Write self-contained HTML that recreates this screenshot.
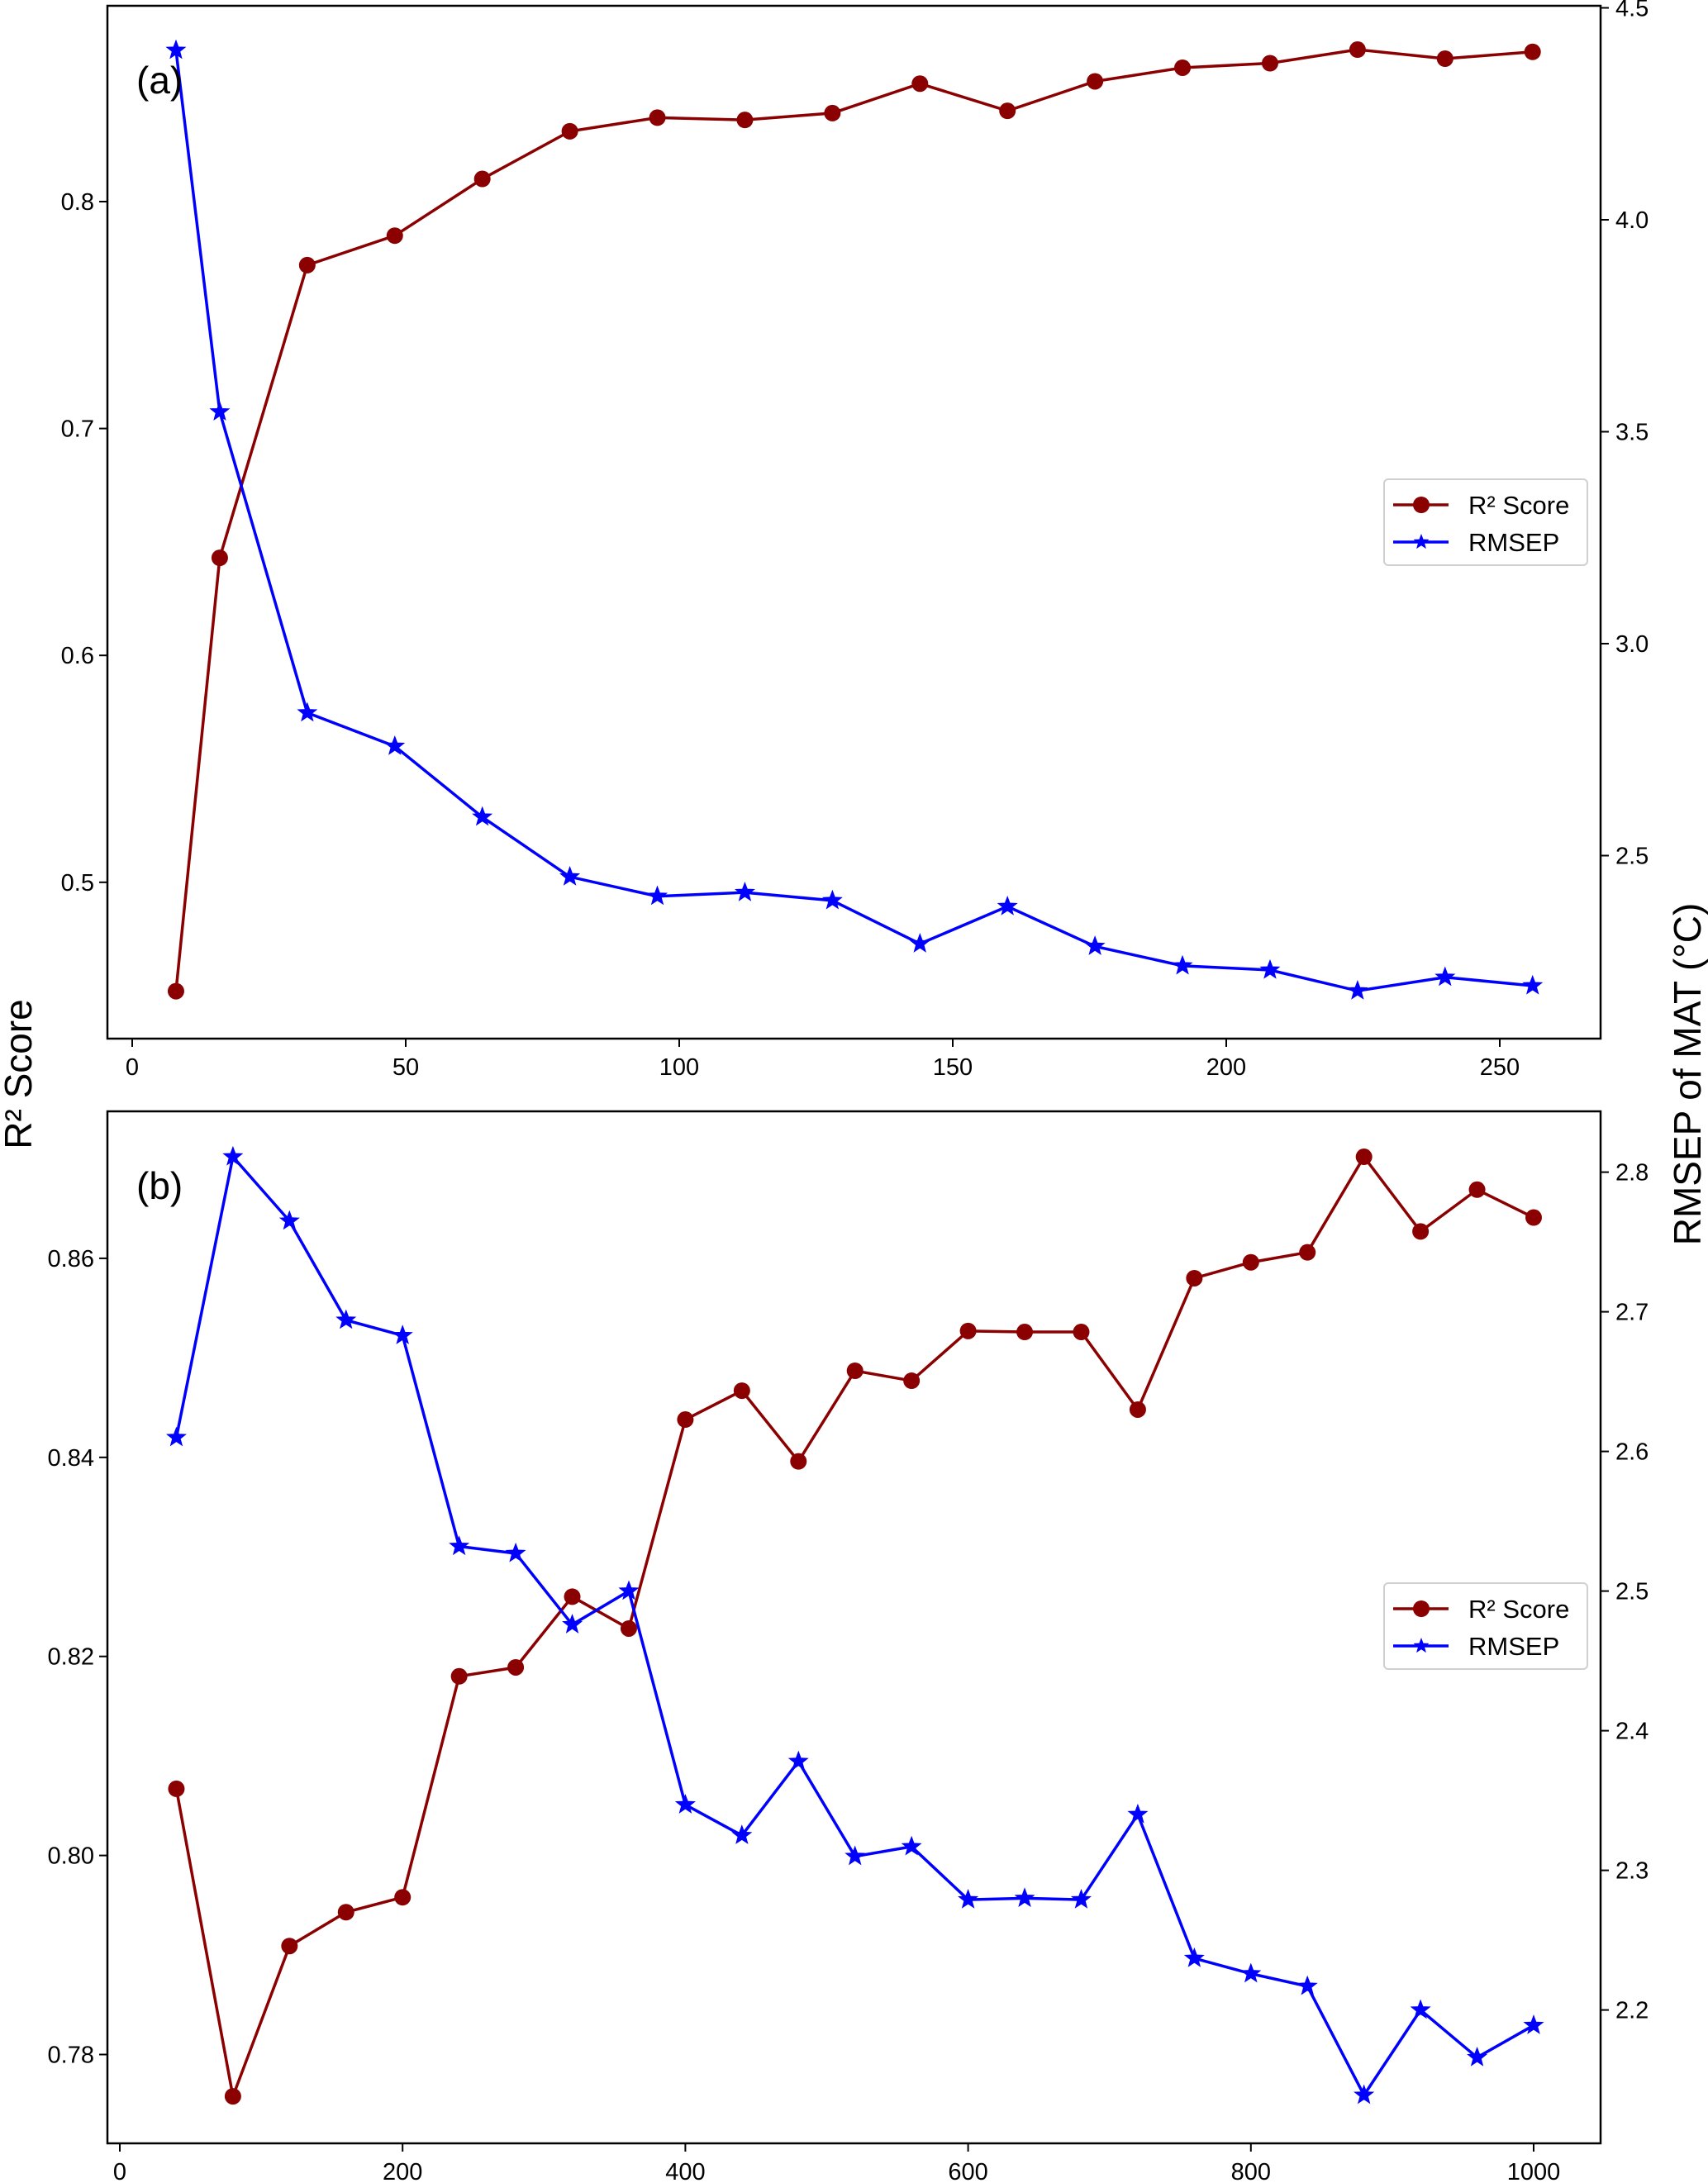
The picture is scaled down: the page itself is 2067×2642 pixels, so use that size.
<!DOCTYPE html>
<html><head><meta charset="utf-8"><style>
html,body{margin:0;padding:0;background:#fff;}
svg{display:block;font-family:"Liberation Sans","DejaVu Sans",sans-serif;}
</style></head><body>
<svg id="chart" width="2067" height="2642" viewBox="0 0 2067 2642" xmlns="http://www.w3.org/2000/svg">
<text x="0" y="0" font-size="46" text-anchor="middle" transform="translate(38,1300) rotate(-90)">R² Score</text>
<text x="0" y="0" font-size="46" text-anchor="middle" transform="translate(2058,1300) rotate(-90)">RMSEP of MAT (°C)</text>
</svg>
<script>
const xA = [8,16,32,48,64,80,96,112,128,144,160,176,192,208,224,240,256];
const r2A = [0.452,0.643,0.772,0.785,0.810,0.831,0.837,0.836,0.839,0.852,0.840,0.853,0.859,0.861,0.867,0.863,0.866];
const rmA = [4.40,3.547,2.837,2.758,2.591,2.450,2.404,2.413,2.394,2.292,2.380,2.286,2.240,2.230,2.181,2.213,2.193];
const xTicksA = [0,50,100,150,200,250];
const lTicksA = [0.5,0.6,0.7,0.8];
const rTicksA = [2.5,3.0,3.5,4.0,4.5];

const xB = [40,80,120,160,200,240,280,320,360,400,440,480,520,560,600,640,680,720,760,800,840,880,920,960,1000];
const r2B = [0.8067,0.7758,0.7909,0.7943,0.7958,0.8180,0.8189,0.8260,0.8228,0.8438,0.8467,0.8396,0.8487,0.8477,0.8527,0.8526,0.8526,0.8448,0.8580,0.8596,0.8606,0.8702,0.8627,0.8669,0.8641];
const rmB = [2.610,2.811,2.765,2.694,2.683,2.532,2.527,2.476,2.500,2.347,2.325,2.378,2.310,2.317,2.279,2.280,2.279,2.340,2.237,2.226,2.217,2.139,2.200,2.166,2.189];
const xTicksB = [0,200,400,600,800,1000];
const lTicksB = [0.78,0.80,0.82,0.84,0.86];
const rTicksB = [2.2,2.3,2.4,2.5,2.6,2.7,2.8];

const NS="http://www.w3.org/2000/svg";
const svg=document.getElementById('chart');
function el(tag,attrs,parent){const e=document.createElementNS(NS,tag);for(const k in attrs)e.setAttribute(k,attrs[k]);(parent||svg).appendChild(e);return e;}
function star(cx,cy,r){let p=[];for(let i=0;i<10;i++){const rr=i%2?r*0.42:r;const a=-Math.PI/2+i*Math.PI/5;p.push((cx+rr*Math.cos(a)).toFixed(1)+','+(cy+rr*Math.sin(a)).toFixed(1));}return p.join(' ');}

function panel(cfg){
  const g=el('g',{});
  
  
  const X=v=>cfg.x0+(v-cfg.xv0)*cfg.xs;
  const YL=v=>cfg.l0-(v-cfg.lv0)*cfg.ls;
  const YR=v=>cfg.r0-(v-cfg.rv0)*cfg.rs;
  cfg.xt.forEach(t=>{const x=X(t);
    const tk=el('line',{x1:x,x2:x,y1:cfg.bottom,y2:cfg.bottom+10,stroke:'#000','stroke-width':2},g);
    
    const tx=el('text',{x:x,y:cfg.bottom+44,'font-size':29,'text-anchor':'middle'},g);tx.textContent=t;
    });
  cfg.lt.forEach(t=>{const y=YL(t);
    el('line',{x1:cfg.left-10,x2:cfg.left,y1:y,y2:y,stroke:'#000','stroke-width':2},g);
    const tx=el('text',{x:cfg.left-16,y:y+10,'font-size':29,'text-anchor':'end'},g);tx.textContent=cfg.lf(t);
    });
  cfg.rt.forEach(t=>{const y=YR(t);
    el('line',{x1:cfg.right,x2:cfg.right+10,y1:y,y2:y,stroke:'#000','stroke-width':2},g);
    const tx=el('text',{x:cfg.right+18,y:y+10,'font-size':29,'text-anchor':'start'},g);tx.textContent=t.toFixed(1);
    });
  const pr=el('polyline',{points:cfg.xs_.map((v,i)=>X(v)+','+YL(cfg.r2[i])).join(' '),fill:'none',stroke:'#8b0000','stroke-width':3.5},g);
  
  cfg.xs_.forEach((v,i)=>{const c=el('circle',{cx:X(v),cy:YL(cfg.r2[i]),r:10,fill:'#8b0000'},g);
    });
  const pb=el('polyline',{points:cfg.xs_.map((v,i)=>X(v)+','+YR(cfg.rm[i])).join(' '),fill:'none',stroke:'#0000ff','stroke-width':3.5},g);
  
  cfg.xs_.forEach((v,i)=>{const s=el('polygon',{points:star(X(v),YR(cfg.rm[i]),11),fill:'#0000ff',stroke:'#0000ff','stroke-width':1.5},g);
    });
  const fr=el('rect',{x:cfg.left,y:cfg.top,width:cfg.right-cfg.left,height:cfg.bottom-cfg.top,fill:'none',stroke:'#000','stroke-width':2.5},g);
  
  const lab=el('text',{x:cfg.left+35,y:cfg.top+106,'font-size':46},g);lab.textContent=cfg.label;
  
  const lg=el('g',{},g);
  
  const ly=cfg.legY;
  el('rect',{x:1675,y:ly,width:246,height:104,rx:5,fill:'#fff',stroke:'#d0d0d0','stroke-width':2},lg);
  el('line',{x1:1686,x2:1753,y1:ly+31,y2:ly+31,stroke:'#8b0000','stroke-width':3.5},lg);
  el('circle',{cx:1720,cy:ly+31,r:10,fill:'#8b0000'},lg);
  const t1=el('text',{x:1777,y:ly+42,'font-size':31},lg);t1.textContent='R² Score';
  
  el('line',{x1:1686,x2:1753,y1:ly+76,y2:ly+76,stroke:'#0000ff','stroke-width':3.5},lg);
  el('polygon',{points:star(1720,ly+76,10),fill:'#0000ff'},lg);
  const t2=el('text',{x:1777,y:ly+87,'font-size':31},lg);t2.textContent='RMSEP';
  
}

panel({name:'panel-a',label:'(a)',left:130,right:1937,top:7,bottom:1257,
  x0:160,xv0:0,xs:6.62,l0:244,lv0:0.8,ls:2746,r0:266,rv0:4.0,rs:513,
  xt:xTicksA,lt:lTicksA,rt:rTicksA,lf:t=>t.toFixed(1),xs_:xA,r2:r2A,rm:rmA,legY:580});
panel({name:'panel-b',label:'(b)',left:130,right:1937,top:1345,bottom:2594,
  x0:145,xv0:0,xs:1.711,l0:2486.5,lv0:0.78,ls:12045,r0:2432.6,rv0:2.2,rs:1690,
  xt:xTicksB,lt:lTicksB,rt:rTicksB,lf:t=>t.toFixed(2),xs_:xB,r2:r2B,rm:rmB,legY:1916});
</script>
</body></html>
